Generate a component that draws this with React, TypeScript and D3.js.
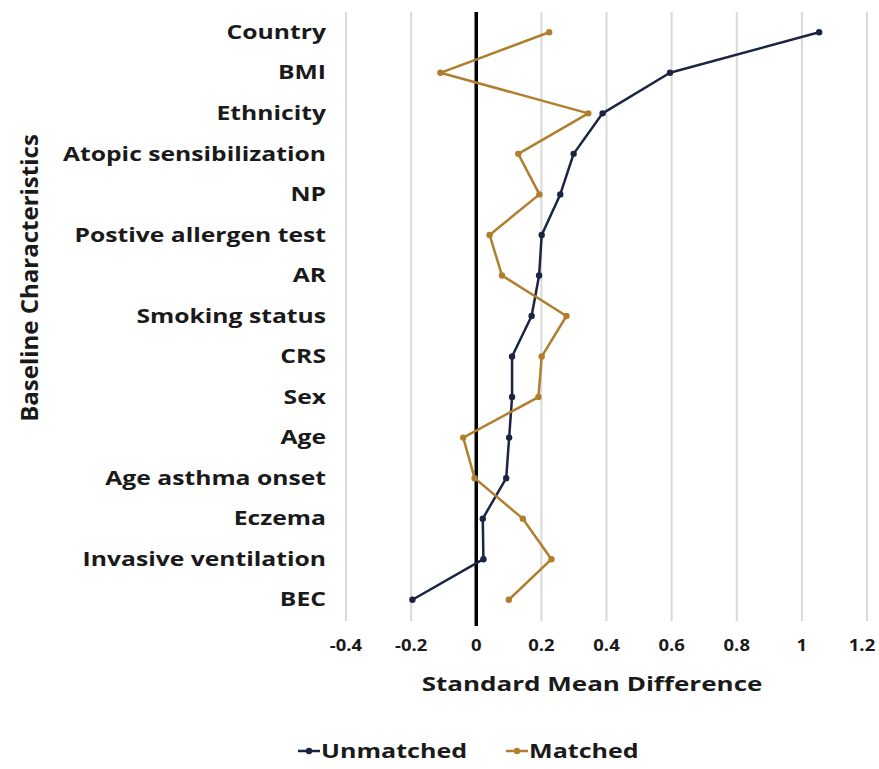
import * as d3 from "d3";
import React, { useEffect, useRef } from "react";

const categories = [
  "Country",
  "BMI",
  "Ethnicity",
  "Atopic sensibilization",
  "NP",
  "Postive allergen test",
  "AR",
  "Smoking status",
  "CRS",
  "Sex",
  "Age",
  "Age asthma onset",
  "Eczema",
  "Invasive ventilation",
  "BEC",
];

const unmatched = [1.053, 0.595, 0.388, 0.299, 0.258, 0.201, 0.193, 0.17, 0.11, 0.11, 0.101, 0.092, 0.02, 0.022, -0.196];
const matched = [0.224, -0.11, 0.344, 0.129, 0.194, 0.041, 0.079, 0.277, 0.201, 0.191, -0.04, -0.005, 0.143, 0.231, 0.1];

const xTicks = [-0.4, -0.2, 0, 0.2, 0.4, 0.6, 0.8, 1, 1.2];

const series = [
  { name: "Unmatched", values: unmatched, color: "#1b2440" },
  { name: "Matched", values: matched, color: "#b07f2e" },
];

const FONT = "'Open Sans', 'DejaVu Sans', sans-serif";
// the reference text is stretched sideways, so text gets a horizontal scale
const SX = 1.32;

const App: React.FC = () => {
  const svgRef = useRef<SVGSVGElement | null>(null);

  useEffect(() => {
    const svg = d3.select(svgRef.current);
    svg.selectAll("*").remove();
    const width = 879;
    const height = 769;
    svg.attr("width", width).attr("height", height);

    const x = d3.scaleLinear().domain([-0.4, 1.2]).range([346, 867]);
    const y = d3.scaleBand().domain(categories).range([12, 620]);
    const cy = (c: string) => y(c)! + y.bandwidth() / 2;

    // gridlines
    svg
      .append("g")
      .selectAll("line")
      .data(xTicks.filter((t) => t !== 0))
      .join("line")
      .attr("x1", (d) => x(d))
      .attr("x2", (d) => x(d))
      .attr("y1", 12)
      .attr("y2", 621)
      .attr("stroke", "#d9d9d9")
      .attr("stroke-width", 2);

    // zero axis
    svg
      .append("line")
      .attr("x1", x(0))
      .attr("x2", x(0))
      .attr("y1", 12)
      .attr("y2", 626)
      .attr("stroke", "#000")
      .attr("stroke-width", 3.5);

    // tick labels
    svg
      .append("g")
      .selectAll("text")
      .data(xTicks)
      .join("text")
      .attr("transform", (d) => `translate(${Math.min(x(d), 862)},651) scale(1.12,1)`)
      .attr("text-anchor", "middle")
      .attr("font-family", FONT)
      .attr("font-weight", "bold")
      .attr("font-size", 16.5)
      .attr("fill", "#1a1a1a")
      .text((d) => String(d));

    // category labels
    svg
      .append("g")
      .selectAll("text")
      .data(categories)
      .join("text")
      .attr("transform", (d) => `translate(326,${cy(d)}) scale(1.3,1)`)
      .attr("dy", "0.35em")
      .attr("text-anchor", "end")
      .attr("font-family", FONT)
      .attr("font-weight", "bold")
      .attr("font-size", 19)
      .attr("fill", "#1a1a1a")
      .text((d) => d);

    // lines
    const line = d3
      .line<number>()
      .x((d) => x(d))
      .y((_, i) => cy(categories[i]));

    series.forEach((s) => {
      const g = svg.append("g");
      g.append("path")
        .attr("d", line(s.values))
        .attr("fill", "none")
        .attr("stroke", s.color)
        .attr("stroke-width", 2.5)
        .attr("stroke-linejoin", "round");
      g.selectAll("circle")
        .data(s.values)
        .join("circle")
        .attr("cx", (d) => x(d))
        .attr("cy", (_, i) => cy(categories[i]))
        .attr("r", 3.2)
        .attr("fill", s.color);
    });

    // axis titles
    svg
      .append("text")
      .attr("transform", `translate(592,691) scale(${SX + 0.05},1)`)
      .attr("text-anchor", "middle")
      .attr("font-family", FONT)
      .attr("font-weight", "bold")
      .attr("font-size", 19)
      .attr("fill", "#1a1a1a")
      .text("Standard Mean Difference");

    svg
      .append("text")
      .attr("transform", `translate(38,278) rotate(-90)`)
      .attr("text-anchor", "middle")
      .attr("font-family", FONT)
      .attr("font-weight", "bold")
      .attr("font-size", 24)
      .attr("fill", "#1a1a1a")
      .text("Baseline Characteristics");

    // legend
    const legendX = [298, 506];
    const legend = svg
      .append("g")
      .selectAll("g")
      .data(series)
      .join("g")
      .attr("transform", (_, i) => `translate(${legendX[i]},751)`);
    legend
      .append("line")
      .attr("x1", 0)
      .attr("x2", 22)
      .attr("stroke", (d) => d.color)
      .attr("stroke-width", 2.5);
    legend
      .append("circle")
      .attr("cx", 11)
      .attr("r", 3.2)
      .attr("fill", (d) => d.color);
    legend
      .append("text")
      .attr("transform", `translate(23,0) scale(${SX},1)`)
      .attr("dy", "0.35em")
      .attr("font-family", FONT)
      .attr("font-weight", "bold")
      .attr("font-size", 19)
      .attr("fill", "#1a1a1a")
      .text((d) => d.name);
  }, []);

  return (
    <svg
      ref={svgRef}
      style={{ position: "absolute", left: 0, top: 0, background: "#fff" }}
    />
  );
};

export default App;
